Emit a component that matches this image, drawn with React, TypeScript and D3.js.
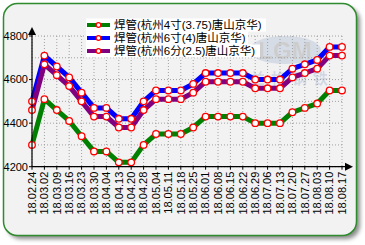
import React from "react";
import * as d3 from "d3";

const dates = ["18.02.24","18.03.02","18.03.09","18.03.16","18.03.23","18.03.30","18.04.04","18.04.13","18.04.20","18.04.28","18.05.04","18.05.11","18.05.18","18.05.25","18.06.01","18.06.08","18.06.15","18.06.22","18.06.29","18.07.06","18.07.13","18.07.20","18.07.27","18.08.03","18.08.10","18.08.17"];
const seriesGreen = [4300,4510,4460,4410,4340,4270,4270,4220,4220,4300,4350,4350,4350,4380,4430,4430,4430,4430,4400,4400,4400,4450,4470,4490,4550,4550];
const seriesBlue = [4500,4710,4660,4610,4540,4470,4470,4420,4420,4500,4550,4550,4550,4580,4630,4630,4630,4630,4600,4600,4600,4650,4670,4690,4750,4750];
const seriesPurple = [4460,4670,4620,4570,4500,4430,4430,4380,4380,4460,4510,4510,4510,4540,4590,4590,4590,4590,4560,4560,4560,4610,4630,4650,4710,4710];
const seriesNames = ["焊管(杭州4寸(3.75)唐山京华)","焊管(杭州6寸(4)唐山京华)","焊管(杭州6分(2.5)唐山京华)"];
const seriesColors = ["#008000","#0000ff","#800080"];
const yTickLabels = [4200,4400,4600,4800];
const yGrid = [4200,4300,4400,4500,4600,4700,4800];

export default function App() {
  const W = 365, H = 245;
  const x = d3.scalePoint<string>().domain(dates).range([32, 342]);
  const y = d3.scaleLinear().domain([4200, 4800]).range([166.7, 36]);
  const all = [seriesGreen, seriesBlue, seriesPurple];
  const line = d3.line<number>().x((_, i) => x(dates[i]) as number).y(d => y(d));
  const axisX0 = 32, axisY0 = y(4200);
  const legendRows = [25, 38, 51];
  const legendW = [150, 132, 144];
  return (
    <svg width={W} height={H} style={{ position: "absolute", left: 0, top: 0 }}>
      <defs>
        <filter id="sh" x="-5%" y="-5%" width="115%" height="115%">
          <feGaussianBlur stdDeviation="2" />
        </filter>
      </defs>
      <rect x={0} y={0} width={W} height={H} fill="#ffffff" />
      <rect x={7} y={7} width={353} height={232} rx={14} fill="#8a8a8a" filter="url(#sh)" />
      <rect x={3.5} y={3.5} width={353} height={232} rx={14} fill="#f2f2f2" stroke="#2e8b2e" strokeWidth={1.5} />
      {/* watermark */}
      <g opacity={0.28}>
        <ellipse cx={285} cy={50} rx={36} ry={14} fill="#8fa6c8" />
        <text x={285} y={59} textAnchor="middle" fontFamily="Liberation Sans, Arial" fontWeight="bold" fontSize={24} fill="#707070">LGM</text>
        <text x={292} y={84} textAnchor="middle" fontFamily="Noto Sans CJK SC" fontWeight="bold" fontSize={15} fill="#7f95c0" letterSpacing={6}>兰格钢铁</text>
      </g>
      {/* grid */}
      {yGrid.map(v => (
        <line key={"h" + v} x1={axisX0} x2={342} y1={y(v)} y2={y(v)} stroke="#a0a0a0" strokeWidth={1} strokeDasharray="1,2" />
      ))}
      {dates.map(d => (
        <line key={"v" + d} x1={x(d)} x2={x(d)} y1={y(4800)} y2={axisY0} stroke="#a0a0a0" strokeWidth={1} strokeDasharray="1,2" />
      ))}
      {/* legend */}
      {seriesNames.map((n, i) => (
        <g key={"lg" + i}>
          <rect x={86} y={legendRows[i] - 6.5} width={legendW[i] + 30} height={13} fill="#ffffff" />
          <line x1={87} x2={110} y1={legendRows[i]} y2={legendRows[i]} stroke={seriesColors[i]} strokeWidth={4} />
          <circle cx={98.5} cy={legendRows[i]} r={2.3} fill="#ffffff" stroke="#ff0000" strokeWidth={1.2} />
          <text x={114} y={legendRows[i]} dy="0.36em" fontFamily="Liberation Sans, Noto Sans CJK SC" fontSize={11.5} fill="#000">{n}</text>
        </g>
      ))}
      {/* series */}
      {all.map((s, i) => (
        <path key={"p" + i} d={line(s) || ""} fill="none" stroke={seriesColors[i]} strokeWidth={5} strokeLinejoin="round" strokeLinecap="round" />
      ))}
      {all.map((s, i) => (
        <g key={"m" + i}>
          {s.map((v, j) => (
            <circle key={j} cx={x(dates[j])} cy={y(v)} r={3.3} fill="#ffffff" stroke="#ff0000" strokeWidth={1.3} />
          ))}
        </g>
      ))}
      {/* axes */}
      <line x1={axisX0} x2={axisX0} y1={axisY0} y2={33} stroke="#000" strokeWidth={1.2} />
      <path d={`M${axisX0},27 L${axisX0 - 4},35 L${axisX0 + 4},35 Z`} fill="#000" />
      <line x1={axisX0} x2={346} y1={axisY0} y2={axisY0} stroke="#000" strokeWidth={1.2} />
      <path d={`M353,${axisY0} L345,${axisY0 - 4} L345,${axisY0 + 4} Z`} fill="#000" />
      {yTickLabels.map(v => (
        <g key={"yt" + v}>
          <line x1={axisX0 - 3} x2={axisX0} y1={y(v)} y2={y(v)} stroke="#000" />
          <text x={28} y={y(v)} dy="0.35em" textAnchor="end" fontFamily="Liberation Sans, Arial" fontSize={11} fill="#000">{v}</text>
        </g>
      ))}
      {dates.map(d => (
        <g key={"xt" + d}>
          <line x1={x(d)} x2={x(d)} y1={axisY0} y2={axisY0 + 3} stroke="#000" />
          <text transform={`translate(${x(d)},${axisY0 + 5}) rotate(-90)`} dy="0.35em" textAnchor="end" fontFamily="Liberation Sans, Arial" fontSize={11} fill="#000">{d}</text>
        </g>
      ))}
    </svg>
  );
}
